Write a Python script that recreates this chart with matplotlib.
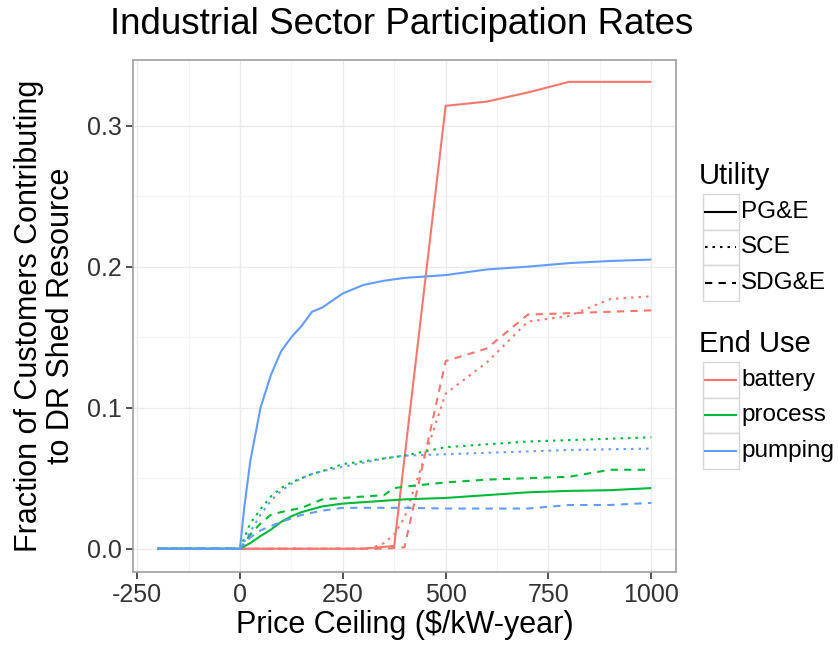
import matplotlib
matplotlib.use("Agg")
import matplotlib.pyplot as plt
from matplotlib.lines import Line2D
from matplotlib.patches import Rectangle

plt.rcParams['font.family'] = ['Liberation Sans', 'DejaVu Sans']

# ---- data ----
title = "Industrial Sector Participation Rates"
xlabel = "Price Ceiling ($/kW-year)"
ylabel = "Fraction of Customers Contributing\nto DR Shed Resource"
xticks = [-250, 0, 250, 500, 750, 1000]
xtick_labels = ["-250", "0", "250", "500", "750", "1000"]
yticks = [0.0, 0.1, 0.2, 0.3]
ytick_labels = ["0.0", "0.1", "0.2", "0.3"]

utilities = ["PG&E", "SCE", "SDG&E"]
end_uses = ["battery", "process", "pumping"]

battery_pge_x = [-200, 0, 300, 375, 500, 600, 700, 800, 900, 1000]
battery_pge_y = [0, 0, 0, 0.002, 0.314, 0.317, 0.3235, 0.331, 0.331, 0.331]
battery_sce_x = [-200, 0, 300, 325, 350, 375, 400, 500, 600, 700, 800, 900, 1000]
battery_sce_y = [0, 0, 0, 0.001, 0.004, 0.010, 0.022, 0.110, 0.132, 0.161, 0.165, 0.177, 0.179]
battery_sdge_x = [-200, 0, 300, 350, 400, 500, 600, 700, 800, 900, 1000]
battery_sdge_y = [0, 0, 0, 0, 0.001, 0.133, 0.142, 0.166, 0.167, 0.168, 0.169]

process_pge_x = [-200, 0, 25, 50, 75, 100, 125, 150, 175, 200, 250, 300, 350, 400, 500, 600, 700, 800, 900, 1000]
process_pge_y = [0, 0, 0.004, 0.009, 0.0135, 0.019, 0.023, 0.026, 0.028, 0.030, 0.032, 0.033, 0.034, 0.035, 0.036, 0.038, 0.040, 0.041, 0.0415, 0.043]
process_sce_x = [-200, 0, 25, 50, 75, 100, 125, 150, 175, 200, 250, 300, 350, 400, 500, 600, 700, 800, 900, 1000]
process_sce_y = [0, 0, 0.018, 0.028, 0.037, 0.043, 0.047, 0.050, 0.053, 0.055, 0.060, 0.062, 0.064, 0.066, 0.072, 0.074, 0.076, 0.077, 0.078, 0.079]
process_sdge_x = [-200, 0, 25, 50, 75, 100, 150, 200, 250, 300, 350, 375, 400, 500, 600, 700, 800, 900, 1000]
process_sdge_y = [0, 0, 0.010, 0.018, 0.024, 0.026, 0.029, 0.035, 0.036, 0.037, 0.038, 0.043, 0.044, 0.047, 0.049, 0.050, 0.051, 0.056, 0.056]

pumping_pge_x = [-200, 0, 10, 25, 50, 75, 100, 125, 150, 175, 200, 225, 250, 300, 350, 400, 450, 500, 600, 700, 800, 900, 1000]
pumping_pge_y = [0, 0, 0.028, 0.062, 0.100, 0.123, 0.140, 0.150, 0.158, 0.168, 0.171, 0.176, 0.181, 0.187, 0.190, 0.192, 0.193, 0.194, 0.198, 0.200, 0.2025, 0.204, 0.205]
pumping_sce_x = [-200, 0, 25, 50, 75, 100, 125, 150, 175, 200, 250, 300, 350, 400, 500, 600, 700, 800, 900, 1000]
pumping_sce_y = [0, 0, 0.012, 0.024, 0.034, 0.041, 0.046, 0.050, 0.053, 0.055, 0.058, 0.061, 0.064, 0.066, 0.067, 0.068, 0.069, 0.070, 0.0705, 0.071]
pumping_sdge_x = [-200, 0, 25, 50, 75, 100, 150, 200, 250, 300, 350, 400, 500, 600, 700, 800, 900, 1000]
pumping_sdge_y = [0, 0, 0.008, 0.013, 0.016, 0.019, 0.024, 0.027, 0.029, 0.029, 0.029, 0.029, 0.0285, 0.0285, 0.0285, 0.031, 0.031, 0.0325]

series = {
    ("battery", "PG&E"): (battery_pge_x, battery_pge_y),
    ("battery", "SCE"): (battery_sce_x, battery_sce_y),
    ("battery", "SDG&E"): (battery_sdge_x, battery_sdge_y),
    ("process", "PG&E"): (process_pge_x, process_pge_y),
    ("process", "SCE"): (process_sce_x, process_sce_y),
    ("process", "SDG&E"): (process_sdge_x, process_sdge_y),
    ("pumping", "PG&E"): (pumping_pge_x, pumping_pge_y),
    ("pumping", "SCE"): (pumping_sce_x, pumping_sce_y),
    ("pumping", "SDG&E"): (pumping_sdge_x, pumping_sdge_y),
}

# ---- styles ----
colors = {"battery": "#F8766D", "process": "#00BA38", "pumping": "#619CFF"}
LW = 1.5
dashes = {"PG&E": None, "SCE": (1.2, 2.4), "SDG&E": (3.5, 3.0)}

W, H = 839, 647
fig = plt.figure(figsize=(W / 100, H / 100), dpi=100)
L, R, T, B = 133, 676, 60, 572
ax = fig.add_axes([L / W, 1 - B / H, (R - L) / W, (B - T) / H])

for eu in end_uses:
    for ut in utilities:
        x, y = series[(eu, ut)]
        ln, = ax.plot(x, y, color=colors[eu], lw=LW, solid_capstyle='butt')
        if dashes[ut] is not None:
            ln.set_dashes(dashes[ut])

ax.set_xlim(-260, 1060)
ax.set_ylim(-0.0165, 0.3465)
ax.set_xticks(xticks)
ax.set_xticklabels(xtick_labels)
ax.set_yticks(yticks)
ax.set_yticklabels(ytick_labels)
ax.set_xticks([-125, 125, 375, 625, 875], minor=True)
ax.set_yticks([0.05, 0.15, 0.25], minor=True)
ax.grid(True, which='major', color='#EBEBEB', lw=1.0)
ax.grid(True, which='minor', color='#F4F4F4', lw=0.8)
ax.set_axisbelow(True)
ax.tick_params(which='minor', length=0)
ax.tick_params(which='major', length=5, width=1.2, color='#333333',
               labelsize=18, labelcolor='#333333', pad=3)
for s in ax.spines.values():
    s.set_color('#A0A0A0')
    s.set_linewidth(1.2)

fig.text(402 / W, 1 - 24 / H, title, ha='center', va='center', fontsize=26.5, color='black')
ax.set_xlabel(xlabel, fontsize=22, labelpad=2)
ax.set_ylabel(ylabel, fontsize=22, labelpad=8, linespacing=1.1)


def fx(px):
    return px / W


def fy(py):
    return 1 - py / H


# ---- legends (manual, figure coordinates) ----
def draw_legend(title_txt, title_y, rows_top, labels, handles_style):
    fig.text(fx(699), fy(title_y), title_txt, fontsize=21, ha='left', va='center')
    kh = 35.5
    for i, lab in enumerate(labels):
        top = rows_top + i * kh
        fig.add_artist(Rectangle((fx(702.5), fy(top + kh)), 36 / W, kh / H,
                                 transform=fig.transFigure, facecolor='white',
                                 edgecolor='#D6D6D6', lw=1.0))
        col, dsh = handles_style[i]
        ln = Line2D([fx(705), fx(736)], [fy(top + kh / 2)] * 2, transform=fig.transFigure,
                    color=col, lw=LW)
        if dsh is not None:
            ln.set_dashes(dsh)
        fig.add_artist(ln)
        fig.text(fx(741), fy(top + kh / 2), lab, fontsize=17.5, ha='left', va='center')


draw_legend("Utility", 176, 194, utilities, [("black", dashes[u]) for u in utilities])
draw_legend("End Use", 344, 362, end_uses, [(colors[e], None) for e in end_uses])

fig.savefig("out.png", dpi=100)
